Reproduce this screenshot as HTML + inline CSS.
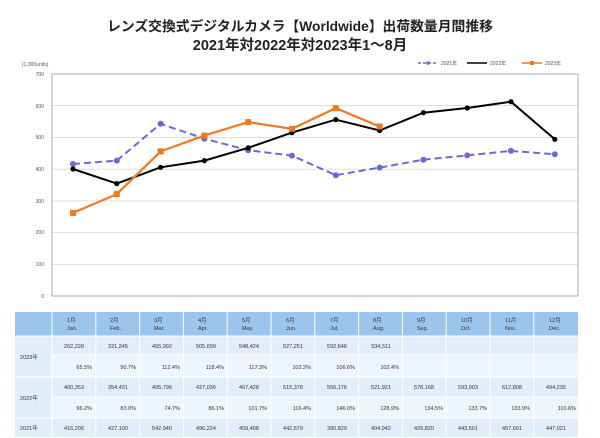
<!DOCTYPE html>
<html><head><meta charset="utf-8"><style>
body{margin:0;background:#fff;}
svg{display:block;font-family:"Liberation Sans","Noto Sans CJK JP",sans-serif;}
</style></head><body>
<svg width="600" height="438" viewBox="0 0 600 438">
<text x="300" y="31" text-anchor="middle" font-size="13.8" font-weight="bold" fill="#222">レンズ交換式デジタルカメラ【Worldwide】出荷数量月間推移</text>
<text x="300" y="50" text-anchor="middle" font-size="14.5" font-weight="bold" fill="#222">2021年対2022年対2023年1～8月</text>
<text x="22" y="66" font-size="5" fill="#555">(1,000units)</text>
<g stroke="#ccc" stroke-width="0.6">
<line x1="52" y1="74" x2="578" y2="74"/><line x1="52" y1="105.7" x2="578" y2="105.7"/><line x1="52" y1="137.4" x2="578" y2="137.4"/><line x1="52" y1="169.2" x2="578" y2="169.2"/><line x1="52" y1="200.9" x2="578" y2="200.9"/><line x1="52" y1="232.6" x2="578" y2="232.6"/><line x1="52" y1="264.3" x2="578" y2="264.3"/>
</g>
<rect x="52" y="74" width="526" height="222" fill="none" stroke="#999" stroke-width="0.8"/>
<g font-size="5" fill="#555" text-anchor="end">
<text x="44" y="76">700</text><text x="44" y="108">600</text><text x="44" y="139">500</text><text x="44" y="171">400</text><text x="44" y="203">300</text><text x="44" y="234">200</text><text x="44" y="266">100</text><text x="44" y="298">0</text>
</g>
<g font-size="5" fill="#555">
<line x1="418" y1="63" x2="438" y2="63" stroke="#6a6ad8" stroke-width="1.5" stroke-dasharray="3,2"/><circle cx="428" cy="63" r="1.8" fill="#6a6ad8"/><text x="441" y="65">2021年</text>
<line x1="467" y1="63" x2="487" y2="63" stroke="#000" stroke-width="1.5"/><text x="490" y="65">2022年</text>
<line x1="522" y1="63" x2="542" y2="63" stroke="#f07820" stroke-width="1.5"/><rect x="530" y="61" width="4" height="4" fill="#f07820"/><text x="545" y="65">2023年</text>
</g>
<polyline fill="none" stroke="#6a6ad8" stroke-width="2" stroke-dasharray="7,4" points="73,164 116.8,160.6 160.6,123.8 204.4,138.7 248.2,150.3 292,155.6 335.8,175.2 379.6,167.6 423.4,159.7 467.2,155.4 511,150.9 554.8,154.3"/>
<g fill="#6a6ad8"><circle cx="73" cy="164" r="3"/><circle cx="116.8" cy="160.6" r="3"/><circle cx="160.6" cy="123.8" r="3"/><circle cx="204.4" cy="138.7" r="3"/><circle cx="248.2" cy="150.3" r="3"/><circle cx="292" cy="155.6" r="3"/><circle cx="335.8" cy="175.2" r="3"/><circle cx="379.6" cy="167.6" r="3"/><circle cx="423.4" cy="159.7" r="3"/><circle cx="467.2" cy="155.4" r="3"/><circle cx="511" cy="150.9" r="3"/><circle cx="554.8" cy="154.3" r="3"/></g>
<polyline fill="none" stroke="#000" stroke-width="2" points="73,169 116.8,183.6 160.6,167.3 204.4,160.6 248.2,147.8 292,132.6 335.8,119.6 379.6,130.5 423.4,112.7 467.2,108 511,101.7 554.8,139.3"/>
<g fill="#000"><circle cx="73" cy="169" r="2.6"/><circle cx="116.8" cy="183.6" r="2.6"/><circle cx="160.6" cy="167.3" r="2.6"/><circle cx="204.4" cy="160.6" r="2.6"/><circle cx="248.2" cy="147.8" r="2.6"/><circle cx="292" cy="132.6" r="2.6"/><circle cx="335.8" cy="119.6" r="2.6"/><circle cx="379.6" cy="130.5" r="2.6"/><circle cx="423.4" cy="112.7" r="2.6"/><circle cx="467.2" cy="108" r="2.6"/><circle cx="511" cy="101.7" r="2.6"/><circle cx="554.8" cy="139.3" r="2.6"/></g>
<polyline fill="none" stroke="#f07820" stroke-width="2.2" points="73,212.9 116.8,194.1 160.6,151.4 204.4,135.6 248.2,122.1 292,128.8 335.8,108.1 379.6,126.5"/>
<g fill="#f07820"><rect x="70" y="209.9" width="6" height="6"/><rect x="113.8" y="191.1" width="6" height="6"/><rect x="157.6" y="148.4" width="6" height="6"/><rect x="201.4" y="132.6" width="6" height="6"/><rect x="245.2" y="119.1" width="6" height="6"/><rect x="289" y="125.8" width="6" height="6"/><rect x="332.8" y="105.1" width="6" height="6"/><rect x="376.6" y="123.5" width="6" height="6"/></g>

<rect x="15" y="312" width="563" height="24" fill="#9cc5ee"/>
<rect x="15" y="336" width="563" height="19" fill="#e1edf9"/>
<rect x="15" y="355" width="563" height="22" fill="#eef5fc"/>
<rect x="15" y="377" width="563" height="20" fill="#e1edf9"/>
<rect x="15" y="397" width="563" height="21" fill="#eef5fc"/>
<rect x="15" y="418" width="563" height="19" fill="#e1edf9"/>
<rect x="15" y="336" width="37" height="41" fill="#e1edf9"/>
<rect x="15" y="377" width="37" height="41" fill="#e1edf9"/>
<g stroke="#fff" stroke-width="1">
<line x1="15" y1="336" x2="578" y2="336"/><line x1="52" y1="355" x2="578" y2="355"/><line x1="15" y1="377" x2="578" y2="377"/><line x1="52" y1="397" x2="578" y2="397"/><line x1="15" y1="418" x2="578" y2="418"/>
<line x1="52" y1="312" x2="52" y2="437"/><line x1="95.8" y1="312" x2="95.8" y2="437"/><line x1="139.6" y1="312" x2="139.6" y2="437"/><line x1="183.4" y1="312" x2="183.4" y2="437"/><line x1="227.2" y1="312" x2="227.2" y2="437"/><line x1="271" y1="312" x2="271" y2="437"/><line x1="314.8" y1="312" x2="314.8" y2="437"/><line x1="358.6" y1="312" x2="358.6" y2="437"/><line x1="402.4" y1="312" x2="402.4" y2="437"/><line x1="446.2" y1="312" x2="446.2" y2="437"/><line x1="490" y1="312" x2="490" y2="437"/><line x1="533.8" y1="312" x2="533.8" y2="437"/>
</g>
<g font-size="5.5" fill="#333">
<text x="67" y="322">1月</text><text x="67" y="330">Jan.</text>
<text x="110" y="322">2月</text><text x="110" y="330">Feb.</text>
<text x="154" y="322">3月</text><text x="154" y="330">Mar.</text>
<text x="198" y="322">4月</text><text x="198" y="330">Apr.</text>
<text x="242" y="322">5月</text><text x="242" y="330">May.</text>
<text x="286" y="322">6月</text><text x="286" y="330">Jun.</text>
<text x="330" y="322">7月</text><text x="330" y="330">Jul.</text>
<text x="373" y="322">8月</text><text x="373" y="330">Aug.</text>
<text x="417" y="322">9月</text><text x="417" y="330">Sep.</text>
<text x="461" y="322">10月</text><text x="461" y="330">Oct.</text>
<text x="505" y="322">11月</text><text x="505" y="330">Nov.</text>
<text x="549" y="322">12月</text><text x="549" y="330">Dec.</text>
</g>
<g font-size="5.5" fill="#333">
<text x="20" y="359">2023年</text><text x="20" y="400">2022年</text><text x="20" y="430">2021年</text>
</g>
<g font-size="5.5" fill="#333" text-anchor="middle">
<text x="74" y="348">262,228</text><text x="118" y="348">321,245</text><text x="162" y="348">455,992</text><text x="206" y="348">505,699</text><text x="249" y="348">548,424</text><text x="293" y="348">527,251</text><text x="337" y="348">592,646</text><text x="381" y="348">534,511</text>
<text x="74" y="389">400,353</text><text x="118" y="389">354,431</text><text x="162" y="389">405,796</text><text x="206" y="389">427,036</text><text x="249" y="389">467,428</text><text x="293" y="389">515,378</text><text x="337" y="389">556,176</text><text x="381" y="389">521,921</text><text x="424" y="389">578,168</text><text x="468" y="389">593,003</text><text x="512" y="389">612,808</text><text x="556" y="389">494,235</text>
<text x="74" y="430">416,206</text><text x="118" y="430">427,100</text><text x="162" y="430">542,940</text><text x="206" y="430">496,224</text><text x="249" y="430">459,408</text><text x="293" y="430">442,679</text><text x="337" y="430">380,829</text><text x="381" y="430">404,942</text><text x="424" y="430">429,820</text><text x="468" y="430">443,501</text><text x="512" y="430">457,601</text><text x="556" y="430">447,021</text>
</g>
<g font-size="5.5" fill="#333" text-anchor="end">
<text x="92" y="369">65.5%</text><text x="136" y="369">90.7%</text><text x="180" y="369">112.4%</text><text x="224" y="369">118.4%</text><text x="267" y="369">117.3%</text><text x="311" y="369">102.2%</text><text x="355" y="369">106.6%</text><text x="399" y="369">102.4%</text>
<text x="92" y="410">96.2%</text><text x="136" y="410">83.0%</text><text x="180" y="410">74.7%</text><text x="224" y="410">86.1%</text><text x="267" y="410">101.7%</text><text x="311" y="410">116.4%</text><text x="355" y="410">146.0%</text><text x="399" y="410">128.9%</text><text x="443" y="410">134.5%</text><text x="487" y="410">133.7%</text><text x="530" y="410">133.9%</text><text x="576" y="410">110.6%</text>
</g>
</svg>
</body></html>
